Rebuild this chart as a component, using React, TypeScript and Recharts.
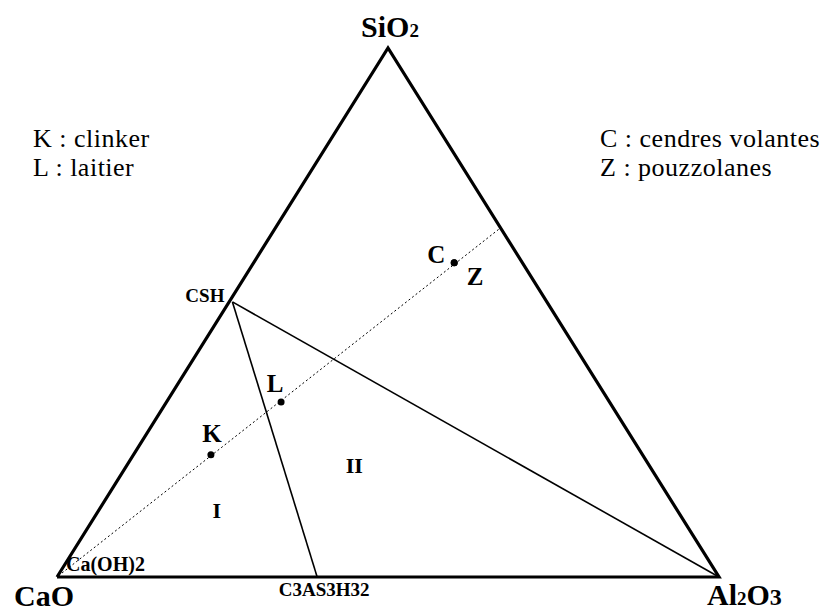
import { ComposedChart, Line, Scatter, XAxis, YAxis } from "recharts";

// ternary compositions (fractions of CaO, SiO2, Al2O3)
const vertices = [
  { name: "CaO", ca: 1, si: 0, al: 0 },
  { name: "SiO2", ca: 0, si: 1, al: 0 },
  { name: "Al2O3", ca: 0, si: 0, al: 1 },
];

const phases = [
  { name: "CSH", ca: 0.48, si: 0.52, al: 0.005 },
  { name: "C3AS3H32", ca: 0.607, si: 0, al: 0.393 },
  { name: "Ca(OH)2", ca: 1, si: 0, al: 0 },
];

const materials = [
  { name: "K", ca: 0.652, si: 0.231, al: 0.117 },
  { name: "L", ca: 0.496, si: 0.331, al: 0.173 },
  { name: "C", ca: 0.103, si: 0.594, al: 0.303 },
  { name: "Z", ca: 0.103, si: 0.594, al: 0.303 },
];

const mixLine = [
  { name: "start", ca: 0.9886, si: 0.0076, al: 0.0038 },
  { name: "end", ca: 0, si: 0.66, al: 0.34 },
];

const regions = [
  { name: "I", ca: 0.695, si: 0.127, al: 0.178 },
  { name: "II", ca: 0.445, si: 0.212, al: 0.343 },
];

const legendLeft = ["K : clinker", "L : laitier"];
const legendRight = ["C : cendres volantes", "Z : pouzzolanes"];

type Comp = { name: string; ca: number; si: number; al: number };
const toXY = (p: Comp) => ({ ...p, x: p.al + p.si / 2, y: p.si });
const find = (arr: Comp[], n: string) => arr.find((p) => p.name === n)!;

const triangle = [...vertices, vertices[0]].map(toXY);
const tie1 = [find(phases, "CSH"), find(vertices, "Al2O3")].map(toXY);
const tie2 = [find(phases, "CSH"), find(phases, "C3AS3H32")].map(toXY);
const mix = mixLine.map(toXY);

const FONT = "Times New Roman, Liberation Serif, DejaVu Serif, serif";

const vertexOffset: Record<string, [number, number, string]> = {
  CaO: [-13, 29, "middle"],
  SiO2: [2, -11, "middle"],
  Al2O3: [-12, 28, "start"],
};

const VertexLabel = (props: any) => {
  const { cx, cy, payload } = props;
  const [dx, dy, anchor] = vertexOffset[payload.name];
  const parts: string[] = payload.name.match(/\d+|\D+/g) || [];
  return (
    <text x={cx + dx} y={cy + dy} textAnchor={anchor} fontFamily={FONT} fontWeight="bold" fontSize={30}>
      {parts.map((s, i) =>
        /\d/.test(s) ? (
          <tspan key={i} fontSize={s === "2" ? 19 : 24}>
            {s}
          </tspan>
        ) : (
          <tspan key={i}>{s}</tspan>
        )
      )}
    </text>
  );
};

// dx, dy, anchor, font size
const phaseOffset: Record<string, [number, number, string, number]> = {
  CSH: [-8, 0, "end", 19],
  C3AS3H32: [7, 19, "middle", 19],
  "Ca(OH)2": [9, -6, "start", 20],
};

const PhaseLabel = (props: any) => {
  const { cx, cy, payload } = props;
  const [dx, dy, anchor, size] = phaseOffset[payload.name];
  return (
    <text x={cx + dx} y={cy + dy} textAnchor={anchor} fontFamily={FONT} fontWeight="bold" fontSize={size}>
      {payload.name}
    </text>
  );
};

const materialOffset: Record<string, [number, number]> = {
  K: [1, -13],
  L: [-6, -10],
  C: [-18, 0],
  Z: [21, 22],
};

const MaterialDot = (props: any) => {
  const { cx, cy, payload } = props;
  const [dx, dy] = materialOffset[payload.name];
  return (
    <g>
      <circle cx={cx} cy={cy} r={3.5} fill="#000" />
      <text x={cx + dx} y={cy + dy} textAnchor="middle" fontFamily={FONT} fontWeight="bold" fontSize={25}>
        {payload.name}
      </text>
    </g>
  );
};

const RegionLabel = (props: any) => {
  const { cx, cy, payload } = props;
  return (
    <text x={cx} y={cy + 8} textAnchor="middle" fontFamily={FONT} fontWeight="bold" fontSize={22}>
      {payload.name}
    </text>
  );
};

const legendStyle: React.CSSProperties = {
  position: "absolute",
  fontFamily: FONT,
  fontSize: 26,
  letterSpacing: "0.5px",
  lineHeight: "29px",
  whiteSpace: "nowrap",
};

export default function App() {
  return (
    <div style={{ position: "relative", width: 813, height: 606, background: "#fff" }}>
      <ComposedChart
        width={813}
        height={606}
        margin={{ top: 40, right: 102, bottom: 37, left: 49 }}
      >
        <XAxis type="number" dataKey="x" domain={[0, 1]} hide />
        <YAxis type="number" dataKey="y" domain={[0, 1]} hide />
        <Line
          data={mix}
          dataKey="y"
          stroke="#000"
          strokeWidth={1}
          strokeDasharray="2 2.5"
          dot={false}
          isAnimationActive={false}
        />
        <Line data={tie1} dataKey="y" stroke="#000" strokeWidth={1.6} dot={false} isAnimationActive={false} />
        <Line data={tie2} dataKey="y" stroke="#000" strokeWidth={1.6} dot={false} isAnimationActive={false} />
        <Line
          data={triangle}
          dataKey="y"
          stroke="#000"
          strokeWidth={3.2}
          strokeLinejoin="miter"
          dot={false}
          isAnimationActive={false}
        />
        <Scatter data={vertices.map(toXY)} shape={VertexLabel} isAnimationActive={false} />
        <Scatter data={phases.map(toXY)} shape={PhaseLabel} isAnimationActive={false} />
        <Scatter data={materials.map(toXY)} shape={MaterialDot} isAnimationActive={false} />
        <Scatter data={regions.map(toXY)} shape={RegionLabel} isAnimationActive={false} />
      </ComposedChart>
      {legendLeft.map((t, i) => (
        <div key={t} style={{ ...legendStyle, left: 25, top: 116 + i * 29 }}>
          {t}
        </div>
      ))}
      {legendRight.map((t, i) => (
        <div key={t} style={{ ...legendStyle, left: 592, top: 116 + i * 29 }}>
          {t}
        </div>
      ))}
    </div>
  );
}
